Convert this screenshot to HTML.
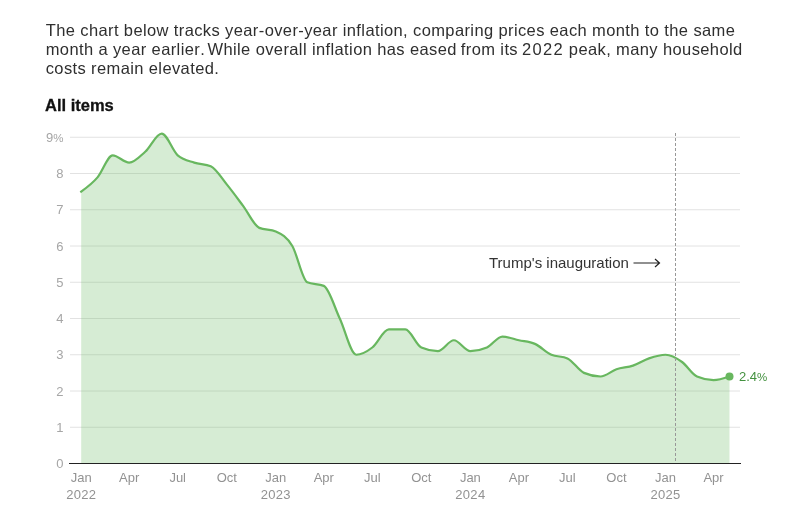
<!DOCTYPE html>
<html><head><meta charset="utf-8"><title>Inflation</title>
<style>
html,body{margin:0;padding:0;background:#fff;}
body{width:806px;height:525px;overflow:hidden;position:relative;font-family:"Liberation Sans",Arial,sans-serif;color:#333;}
p.intro{position:absolute;left:45.7px;top:21px;margin:0;width:740px;font-size:16.5px;line-height:18.7px;color:#2f2f2f;letter-spacing:0.385px;white-space:nowrap;}
h3{position:absolute;left:45px;top:96px;margin:0;font-size:16.5px;line-height:19px;font-weight:bold;color:#111;letter-spacing:0px;-webkit-text-stroke:0.3px #111;}
svg{position:absolute;left:0;top:0;}
.ax{font-family:"Liberation Sans",Arial,sans-serif;font-size:13px;fill:#929292;}
.yr{letter-spacing:0.3px;}
.ay{fill:#a6a6a6;}
.ann{font-family:"Liberation Sans",Arial,sans-serif;font-size:15px;fill:#333;}
.val{font-family:"Liberation Sans",Arial,sans-serif;font-size:13px;fill:#43913f;}
</style></head><body>
<p class="intro">The chart below tracks year-over-year inflation, comparing prices each month to the same<br>month a year earlier<span style="letter-spacing:-0.9px">. </span>While overall inflation has eased<span style="letter-spacing:-0.6px"> </span>from its<span style="letter-spacing:-0.6px"> </span><span style="letter-spacing:1.3px">2022</span> peak, many household<br><span style="position:relative;top:0.7px">costs remain elevated.</span></p>
<h3>All items</h3>
<svg width="806" height="525" viewBox="0 0 806 525">
<line x1="70" x2="740" y1="427.25" y2="427.25" stroke="#e2e2e2" stroke-width="1"/>
<line x1="70" x2="740" y1="391.00" y2="391.00" stroke="#e2e2e2" stroke-width="1"/>
<line x1="70" x2="740" y1="354.75" y2="354.75" stroke="#e2e2e2" stroke-width="1"/>
<line x1="70" x2="740" y1="318.50" y2="318.50" stroke="#e2e2e2" stroke-width="1"/>
<line x1="70" x2="740" y1="282.25" y2="282.25" stroke="#e2e2e2" stroke-width="1"/>
<line x1="70" x2="740" y1="246.00" y2="246.00" stroke="#e2e2e2" stroke-width="1"/>
<line x1="70" x2="740" y1="209.75" y2="209.75" stroke="#e2e2e2" stroke-width="1"/>
<line x1="70" x2="740" y1="173.50" y2="173.50" stroke="#e2e2e2" stroke-width="1"/>
<line x1="70" x2="740" y1="137.25" y2="137.25" stroke="#e2e2e2" stroke-width="1"/>

<path d="M81.20,191.62C86.71,187.63,92.22,183.64,97.73,177.12C102.70,171.24,107.68,155.38,112.66,155.38C118.16,155.38,123.67,162.62,129.18,162.62C134.51,162.62,139.85,156.47,145.18,151.75C150.69,146.88,156.20,133.62,161.70,133.62C167.04,133.62,172.37,150.70,177.70,155.38C183.21,160.21,188.72,160.81,194.23,162.62C199.74,164.44,205.24,163.83,210.75,166.25C216.08,168.59,221.42,177.85,226.75,184.38C232.26,191.11,237.77,198.75,243.27,206.12C248.61,213.26,253.94,225.54,259.27,227.88C264.78,230.29,270.29,229.08,275.80,231.50C281.31,233.92,286.81,236.68,292.32,246.00C297.30,254.42,302.28,280.07,307.25,282.25C312.76,284.67,318.27,283.46,323.78,285.88C329.11,288.21,334.44,307.22,339.77,318.50C345.28,330.15,350.79,354.75,356.30,354.75C361.63,354.75,366.96,351.60,372.30,347.50C377.80,343.26,383.31,329.38,388.82,329.38C394.33,329.38,399.84,329.38,405.35,329.38C410.68,329.38,416.01,345.16,421.34,347.50C426.85,349.92,432.36,351.12,437.87,351.12C443.20,351.12,448.53,340.25,453.87,340.25C459.37,340.25,464.88,351.12,470.39,351.12C475.90,351.12,481.41,349.92,486.92,347.50C492.07,345.24,497.23,336.62,502.38,336.62C507.89,336.62,513.40,339.02,518.91,340.25C524.24,341.44,529.57,341.54,534.90,343.88C540.41,346.29,545.92,352.33,551.43,354.75C556.76,357.09,562.09,355.96,567.42,358.38C572.93,360.87,578.44,370.46,583.95,372.88C589.46,375.29,594.97,376.50,600.48,376.50C605.81,376.50,611.14,371.05,616.47,369.25C621.98,367.39,627.49,367.49,633.00,365.62C638.33,363.82,643.66,360.18,649.00,358.38C654.50,356.51,660.01,354.75,665.52,354.75C671.03,354.75,676.54,358.04,682.05,362.00C687.03,365.58,692.00,374.32,696.98,376.50C702.49,378.92,708.00,380.12,713.51,380.12C718.84,380.12,724.17,378.31,729.50,376.50L729.50,463.50L81.20,463.50Z" fill="#68b75f" fill-opacity="0.27" stroke="none"/>
<path d="M81.20,191.62C86.71,187.63,92.22,183.64,97.73,177.12C102.70,171.24,107.68,155.38,112.66,155.38C118.16,155.38,123.67,162.62,129.18,162.62C134.51,162.62,139.85,156.47,145.18,151.75C150.69,146.88,156.20,133.62,161.70,133.62C167.04,133.62,172.37,150.70,177.70,155.38C183.21,160.21,188.72,160.81,194.23,162.62C199.74,164.44,205.24,163.83,210.75,166.25C216.08,168.59,221.42,177.85,226.75,184.38C232.26,191.11,237.77,198.75,243.27,206.12C248.61,213.26,253.94,225.54,259.27,227.88C264.78,230.29,270.29,229.08,275.80,231.50C281.31,233.92,286.81,236.68,292.32,246.00C297.30,254.42,302.28,280.07,307.25,282.25C312.76,284.67,318.27,283.46,323.78,285.88C329.11,288.21,334.44,307.22,339.77,318.50C345.28,330.15,350.79,354.75,356.30,354.75C361.63,354.75,366.96,351.60,372.30,347.50C377.80,343.26,383.31,329.38,388.82,329.38C394.33,329.38,399.84,329.38,405.35,329.38C410.68,329.38,416.01,345.16,421.34,347.50C426.85,349.92,432.36,351.12,437.87,351.12C443.20,351.12,448.53,340.25,453.87,340.25C459.37,340.25,464.88,351.12,470.39,351.12C475.90,351.12,481.41,349.92,486.92,347.50C492.07,345.24,497.23,336.62,502.38,336.62C507.89,336.62,513.40,339.02,518.91,340.25C524.24,341.44,529.57,341.54,534.90,343.88C540.41,346.29,545.92,352.33,551.43,354.75C556.76,357.09,562.09,355.96,567.42,358.38C572.93,360.87,578.44,370.46,583.95,372.88C589.46,375.29,594.97,376.50,600.48,376.50C605.81,376.50,611.14,371.05,616.47,369.25C621.98,367.39,627.49,367.49,633.00,365.62C638.33,363.82,643.66,360.18,649.00,358.38C654.50,356.51,660.01,354.75,665.52,354.75C671.03,354.75,676.54,358.04,682.05,362.00C687.03,365.58,692.00,374.32,696.98,376.50C702.49,378.92,708.00,380.12,713.51,380.12C718.84,380.12,724.17,378.31,729.50,376.50" fill="none" stroke="#68b75f" stroke-width="2.2" stroke-linejoin="round" stroke-linecap="square"/>
<line x1="69" x2="741" y1="463.5" y2="463.5" stroke="#222" stroke-width="1" shape-rendering="crispEdges"/>
<line x1="675.5" x2="675.5" y1="133" y2="463" stroke="#989898" stroke-width="1" stroke-dasharray="3,2" shape-rendering="crispEdges"/>
<circle cx="729.50" cy="376.50" r="4" fill="#68b75f"/>
<text x="739" y="381.10" class="val">2.4<tspan font-size="11.5">%</tspan></text>
<text x="489" y="267.5" class="ann">Trump's inauguration</text>
<path d="M633.5,263H659.5M655,259L659.5,263L655,267" fill="none" stroke="#222" stroke-width="1.2"/>
<text x="63.5" y="468.20" text-anchor="end" class="ax ay">0</text>
<text x="63.5" y="431.95" text-anchor="end" class="ax ay">1</text>
<text x="63.5" y="395.70" text-anchor="end" class="ax ay">2</text>
<text x="63.5" y="359.45" text-anchor="end" class="ax ay">3</text>
<text x="63.5" y="323.20" text-anchor="end" class="ax ay">4</text>
<text x="63.5" y="286.95" text-anchor="end" class="ax ay">5</text>
<text x="63.5" y="250.70" text-anchor="end" class="ax ay">6</text>
<text x="63.5" y="214.45" text-anchor="end" class="ax ay">7</text>
<text x="63.5" y="178.20" text-anchor="end" class="ax ay">8</text>
<text x="63.5" y="141.95" text-anchor="end" class="ax ay">9<tspan font-size="11.5">%</tspan></text>

<text x="81.20" y="481.6" text-anchor="middle" class="ax">Jan</text>
<text x="81.20" y="499" text-anchor="middle" class="ax yr">2022</text>
<text x="129.18" y="481.6" text-anchor="middle" class="ax">Apr</text>
<text x="177.70" y="481.6" text-anchor="middle" class="ax">Jul</text>
<text x="226.75" y="481.6" text-anchor="middle" class="ax">Oct</text>
<text x="275.80" y="481.6" text-anchor="middle" class="ax">Jan</text>
<text x="275.80" y="499" text-anchor="middle" class="ax yr">2023</text>
<text x="323.78" y="481.6" text-anchor="middle" class="ax">Apr</text>
<text x="372.30" y="481.6" text-anchor="middle" class="ax">Jul</text>
<text x="421.34" y="481.6" text-anchor="middle" class="ax">Oct</text>
<text x="470.39" y="481.6" text-anchor="middle" class="ax">Jan</text>
<text x="470.39" y="499" text-anchor="middle" class="ax yr">2024</text>
<text x="518.91" y="481.6" text-anchor="middle" class="ax">Apr</text>
<text x="567.42" y="481.6" text-anchor="middle" class="ax">Jul</text>
<text x="616.47" y="481.6" text-anchor="middle" class="ax">Oct</text>
<text x="665.52" y="481.6" text-anchor="middle" class="ax">Jan</text>
<text x="665.52" y="499" text-anchor="middle" class="ax yr">2025</text>
<text x="713.51" y="481.6" text-anchor="middle" class="ax">Apr</text>

</svg>
</body></html>
